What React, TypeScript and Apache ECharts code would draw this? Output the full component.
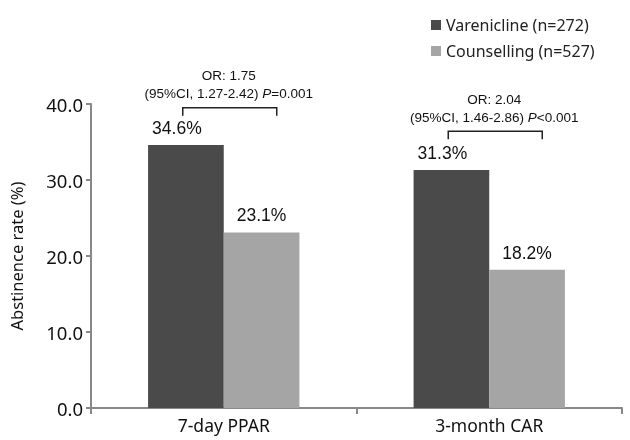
import React, { useEffect, useRef } from "react";
import * as echarts from "echarts";

const categories = ["7-day PPAR", "3-month CAR"];
const varenicline = [34.6, 31.3];
const counselling = [23.1, 18.2];
const seriesNames = ["Varenicline (n=272)", "Counselling (n=527)"];
const yTicks = [0, 10, 20, 30, 40];
const orLines = ["OR: 1.75", "OR: 2.04"];
const ciLines = ["(95%CI, 1.27-2.42) ", "(95%CI, 1.46-2.86) "];
const pLines = ["=0.001", "<0.001"];
const bracketTops = [39.5, 36.4];

export default function App() {
  const ref = useRef<HTMLDivElement>(null);
  useEffect(() => {
    const chart = echarts.init(ref.current!, undefined, { renderer: "svg" });
    const axisFont = "Noto Sans";
    chart.setOption({
      animation: false,
      grid: { left: 91, right: 8, top: 104, bottom: 32 },
      legend: {
        orient: "vertical",
        left: 426,
        top: 12,
        itemWidth: 10,
        itemHeight: 10,
        itemGap: 10,
        icon: "rect",
        textStyle: { fontFamily: axisFont, fontSize: 16, color: "#222" },
        data: seriesNames,
      },
      xAxis: {
        type: "category",
        data: categories,
        axisLine: { lineStyle: { color: "#888", width: 2 } },
        axisTick: { show: true, length: 6, lineStyle: { color: "#888", width: 2 } },
        axisLabel: { fontFamily: axisFont, fontSize: 17.5, color: "#111", margin: 8 },
      },
      yAxis: {
        type: "value",
        min: yTicks[0],
        max: yTicks[yTicks.length - 1],
        interval: 10,
        name: "Abstinence rate (%)",
        nameLocation: "middle",
        nameGap: 66,
        nameTextStyle: { fontFamily: axisFont, fontSize: 16.5, color: "#111" },
        axisLine: { show: true, lineStyle: { color: "#888", width: 2 } },
        axisTick: { show: true, length: 5, lineStyle: { color: "#888", width: 2 } },
        splitLine: { show: false },
        axisLabel: {
          fontFamily: axisFont,
          fontSize: 18.5,
          color: "#111",
          margin: 8,
          formatter: (v: number) => v.toFixed(1),
        },
      },
      series: [
        {
          name: seriesNames[0],
          type: "bar",
          data: varenicline,
          barGap: "0%",
          barCategoryGap: "43%",
          itemStyle: { color: "#4a4a4a" },
          label: {
            show: true,
            position: "top",
            distance: 8,
            offset: [-9, 0],
            formatter: "{c}%",
            fontFamily: "Liberation Sans",
            fontSize: 17.5,
            color: "#111",
          },
        },
        {
          name: seriesNames[1],
          type: "bar",
          data: counselling,
          itemStyle: { color: "#a5a5a5" },
          label: {
            show: true,
            position: "top",
            distance: 8,
            formatter: "{c}%",
            fontFamily: "Liberation Sans",
            fontSize: 17.5,
            color: "#111",
          },
        },
      ],
    });

    const graphics: any[] = [];
    categories.forEach((cat, i) => {
      const [cx, top] = chart.convertToPixel({ gridIndex: 0 }, [cat, bracketTops[i]]) as number[];
      const l = cx - 41;
      const r = cx + 53;
      const tc = cx + 5;
      graphics.push({
        type: "polyline",
        shape: {
          points: [
            [l, top + 8],
            [l, top],
            [r, top],
            [r, top + 8],
          ],
        },
        style: { stroke: "#222", lineWidth: 1.5, fill: null },
      });
      graphics.push({
        type: "text",
        x: tc,
        y: top - 32,
        style: {
          text: orLines[i],
          fontFamily: "Liberation Sans",
          fontSize: 13.5,
          fill: "#111",
          align: "center",
          verticalAlign: "middle",
        },
      });
      graphics.push({
        type: "text",
        x: tc,
        y: top - 14,
        style: {
          text: `{a|${ciLines[i]}}{i|P}{a|${pLines[i]}}`,
          align: "center",
          verticalAlign: "middle",
          rich: {
            a: { fontFamily: "Liberation Sans", fontSize: 13.5, fill: "#111" },
            i: { fontFamily: "Liberation Sans", fontSize: 13.5, fill: "#111", fontStyle: "italic" },
          },
        },
      });
    });
    chart.setOption({ graphic: graphics });

    return () => chart.dispose();
  }, []);
  return (
    <div
      ref={ref}
      style={{ position: "fixed", left: 0, top: 0, width: 630, height: 440 }}
    />
  );
}
